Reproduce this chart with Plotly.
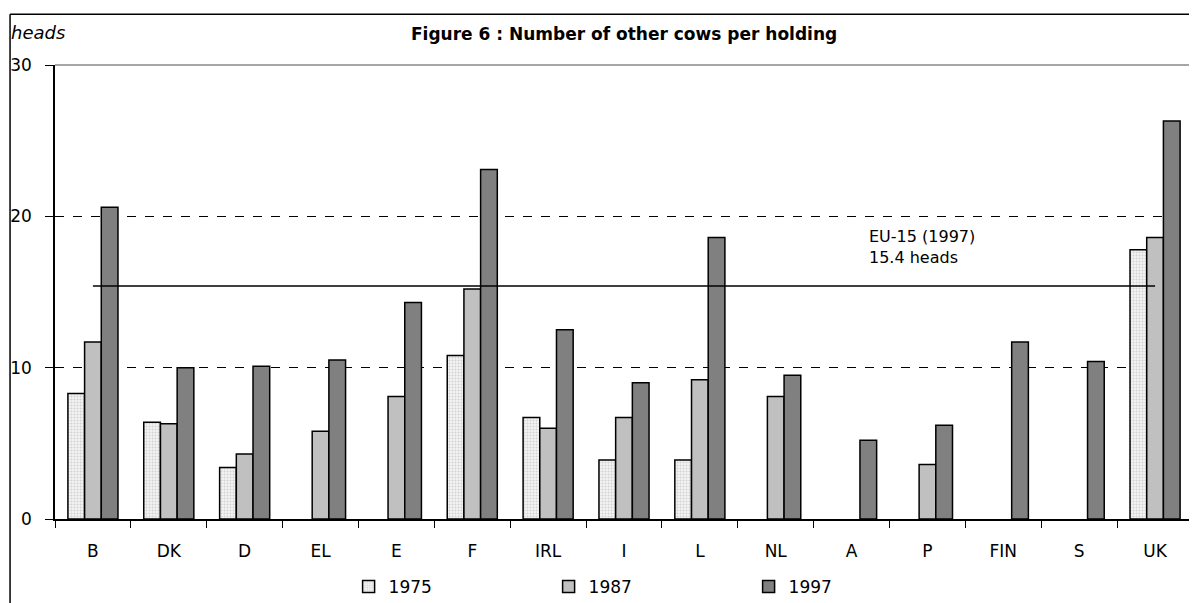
import plotly.graph_objects as go

# Data
countries = ["B", "DK", "D", "EL", "E", "F", "IRL", "I", "L", "NL", "A", "P", "FIN", "S", "UK"]
y1975 = [8.3, 6.4, 3.4, None, None, 10.8, 6.7, 3.9, 3.9, None, None, None, None, None, 17.8]
y1987 = [11.7, 6.3, 4.3, 5.8, 8.1, 15.2, 6.0, 6.7, 9.2, 8.1, None, 3.6, None, None, 18.6]
y1997 = [20.6, 10.0, 10.1, 10.5, 14.3, 23.1, 12.5, 9.0, 18.6, 9.5, 5.2, 6.2, 11.7, 10.4, 26.3]
eu_avg = 15.4

font = "DejaVu Sans, Liberation Sans, Arial, sans-serif"

fig = go.Figure()

fig.add_trace(go.Bar(
    x=countries, y=y1975, name="1975",
    marker=dict(color="#f2f2f2",
                pattern=dict(shape=".", fgcolor="#b0b0b0", bgcolor="#f4f4f4", size=3, solidity=0.4),
                line=dict(color="black", width=1.5)),
))
fig.add_trace(go.Bar(
    x=countries, y=y1987, name="1987",
    marker=dict(color="#c0c0c0", line=dict(color="black", width=1.5)),
))
fig.add_trace(go.Bar(
    x=countries, y=y1997, name="1997",
    marker=dict(color="#808080", line=dict(color="black", width=1.5)),
))

# EU-15 average line
fig.add_trace(go.Scatter(
    x=countries, y=[eu_avg] * len(countries), mode="lines",
    line=dict(color="black", width=1.5), showlegend=False, hoverinfo="skip",
))

fig.add_annotation(x=10.2, y=eu_avg + 1.15, xref="x", yref="y", xanchor="left", yanchor="bottom",
                   text="EU-15 (1997)<br>15.4 heads", showarrow=False, align="left",
                   font=dict(family=font, size=16, color="black"))

fig.add_annotation(x=0.5, y=1.041, xref="paper", yref="paper", yanchor="bottom",
                   text="<b>Figure 6 : Number of other cows per holding</b>", showarrow=False,
                   font=dict(family=font, size=17, color="black"))
fig.add_annotation(x=-0.0405, y=1.044, xref="paper", yref="paper", xanchor="left", yanchor="bottom",
                   text="<i>heads</i>", showarrow=False,
                   font=dict(family=font, size=18, color="black"))

# outer frame
fig.add_shape(type="line", xref="paper", yref="paper", x0=-0.0395, x1=-0.0395, y0=1.112, y1=-0.25,
              line=dict(color="black", width=1.5))
fig.add_shape(type="line", xref="paper", yref="paper", x0=-0.0395, x1=1.0, y0=1.112, y1=1.112,
              line=dict(color="black", width=1.5))
fig.add_shape(type="line", xref="paper", yref="paper", x0=1.0, x1=1.0, y0=1.112, y1=-0.25,
              line=dict(color="#999999", width=2))
# top line at 30
fig.add_shape(type="line", xref="paper", yref="paper", x0=0, x1=1.0, y0=1, y1=1,
              line=dict(color="#888888", width=1.5))

fig.update_layout(
    width=1189, height=595,
    margin=dict(l=47, r=4, t=57, b=84, autoexpand=False),
    paper_bgcolor="white", plot_bgcolor="white",
    barmode="group", bargap=0.34, bargroupgap=0,
    font=dict(family=font, size=17, color="black"),
    legend=dict(orientation="h", x=0.258, xanchor="left", y=-0.11, yanchor="top",
                entrywidth=155, font=dict(size=17), itemwidth=30),
    showlegend=True,
)
fig.update_xaxes(showline=True, linecolor="black", linewidth=1.5, ticks="outside", tickson="boundaries",
                 ticklen=7, tickcolor="black", showgrid=False, tickfont=dict(size=17),
                 ticklabelstandoff=16)
fig.update_yaxes(range=[0, 30], tickvals=[0, 10, 20, 30], showline=True, linecolor="black", linewidth=1.5,
                 ticks="outside", ticklen=8, tickcolor="black", showgrid=True, gridcolor="black",
                 griddash="dash", gridwidth=1, zeroline=False, tickfont=dict(size=17),
                 ticklabelstandoff=10)

fig.write_html("out.html")
